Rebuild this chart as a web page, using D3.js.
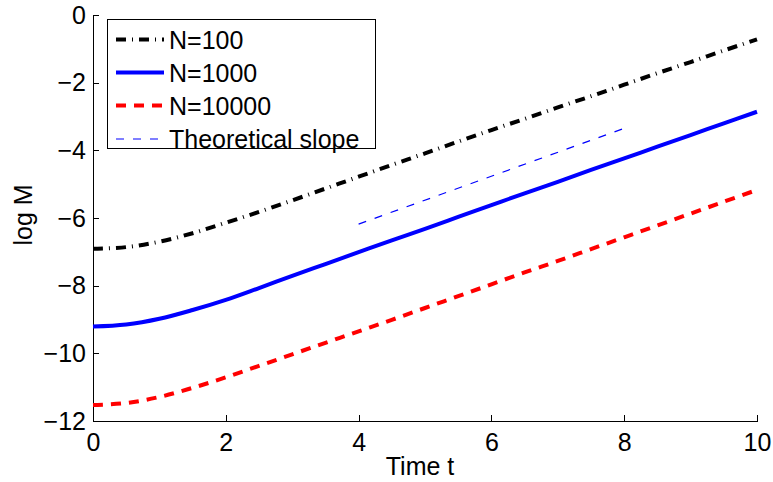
<!DOCTYPE html>
<html>
<head>
<meta charset="utf-8">
<script src="https://cdn.jsdelivr.net/npm/d3@7"></script>
<style>
  body { margin: 0; background: #fff; }
  svg { display: block; }
  text { font-family: "Liberation Sans", Arial, sans-serif; fill: #000; }
</style>
</head>
<body>
<svg id="chart" width="773" height="482"></svg>
<script>
// ---- data ----
const times = [0,0.5,1,1.5,2,2.5,3,3.5,4,4.5,5,5.5,6,6.5,7,7.5,8,8.5,9,9.5,10];
const n100 = [-6.91,-6.86,-6.70,-6.45,-6.14,-5.82,-5.48,-5.13,-4.78,-4.43,-4.09,-3.74,-3.40,-3.07,-2.73,-2.40,-2.06,-1.72,-1.39,-1.05,-0.72];
const n1000 = [-9.21,-9.15,-8.98,-8.72,-8.42,-8.07,-7.71,-7.36,-7.01,-6.66,-6.32,-5.97,-5.62,-5.27,-4.93,-4.58,-4.24,-3.89,-3.55,-3.20,-2.86];
const n10000 = [-11.53,-11.47,-11.29,-11.02,-10.71,-10.37,-10.03,-9.69,-9.35,-9.01,-8.66,-8.31,-7.96,-7.61,-7.27,-6.92,-6.57,-6.22,-5.87,-5.52,-5.17];
const slopeT = [4, 8];
const slopeV = [-6.18, -3.35];
const xTicks = [0,2,4,6,8,10];
const yTicks = [0,-2,-4,-6,-8,-10,-12];
const seriesNames = ["N=100","N=1000","N=10000","Theoretical slope"];

// ---- layout ----
const svg = d3.select("#chart");
const x = d3.scaleLinear().domain([0,10]).range([93,757]);
const y = d3.scaleLinear().domain([-12,0]).range([421,15]);
const fs = 25;

const styles = [
  {color:"#000", width:4, dash:"10,6,1,6"},
  {color:"#0000ff", width:4, dash:null},
  {color:"#ff0000", width:4, dash:"10,8"},
  {color:"#0000ff", width:1.2, dash:"8,9"}
];

// axes
const xAxis = d3.axisBottom(x).tickValues(xTicks).tickSizeInner(-6).tickSizeOuter(0).tickPadding(10).tickFormat(d3.format("d"));
const yAxis = d3.axisLeft(y).tickValues(yTicks).tickSizeInner(-6).tickSizeOuter(0).tickPadding(7)
  .tickFormat(d => d < 0 ? "\u2212" + Math.abs(d) : String(d));

const gx = svg.append("g").attr("transform","translate(0,421)").call(xAxis);
const gy = svg.append("g").attr("transform","translate(93,0)").call(yAxis);
[gx, gy].forEach(g => {
  g.selectAll("path").attr("stroke","#000").attr("stroke-width",1).attr("shape-rendering","crispEdges");
  g.selectAll("line").attr("stroke","#000").attr("stroke-width",1).attr("shape-rendering","crispEdges");
  g.selectAll("text").style("font-size", fs + "px").style("font-family","Liberation Sans, Arial, sans-serif").attr("fill","#000");
});
gx.selectAll("text").attr("dy","0.8em");

// axis labels
svg.append("text").attr("x", 420).attr("y", 475).attr("text-anchor","middle").style("font-size", fs+"px").text("Time t");
svg.append("text").attr("transform","translate(32,215) rotate(-90)").attr("text-anchor","middle").style("font-size", fs+"px").text("log M");

// lines
const line = d3.line().x(d => x(d[0])).y(d => y(d[1])).curve(d3.curveCatmullRom);
const allSeries = [n100, n1000, n10000];
allSeries.forEach((vals, i) => {
  const pts = times.map((t, j) => [t, vals[j]]);
  const s = styles[i];
  svg.append("path").datum(pts).attr("d", line)
    .attr("fill","none").attr("stroke", s.color).attr("stroke-width", s.width)
    .attr("stroke-dasharray", s.dash).attr("stroke-linecap","butt").attr("stroke-linejoin","round");
});
const slopePts = slopeT.map((t,j) => [t, slopeV[j]]);
svg.append("path").datum(slopePts).attr("d", d3.line().x(d => x(d[0])).y(d => y(d[1])))
  .attr("fill","none").attr("stroke", styles[3].color).attr("stroke-width", styles[3].width)
  .attr("stroke-dasharray", styles[3].dash);

// legend
const lg = svg.append("g");
lg.append("rect").attr("x",107.5).attr("y",19.5).attr("width",268).attr("height",129)
  .attr("fill","#fff").attr("stroke","#000").attr("stroke-width",1);
const rowY = [39.5, 72.5, 105.5, 139];
seriesNames.forEach((name, i) => {
  const s = styles[i];
  lg.append("line").attr("x1",116).attr("x2",164).attr("y1",rowY[i]).attr("y2",rowY[i])
    .attr("stroke", s.color).attr("stroke-width", s.width).attr("stroke-dasharray", s.dash);
  lg.append("text").attr("x",169).attr("y",rowY[i]).attr("dy","0.36em").style("font-size", fs+"px").text(name);
});
</script>
</body>
</html>
